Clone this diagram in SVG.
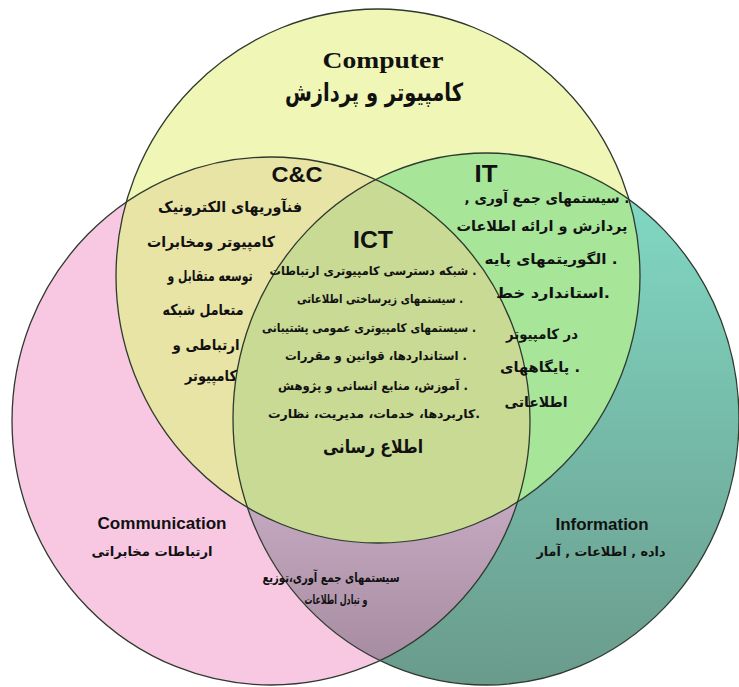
<svg xmlns="http://www.w3.org/2000/svg" width="739" height="687" viewBox="0 0 739 687">
  <defs>
    <linearGradient id="gTeal" gradientUnits="userSpaceOnUse" x1="0" y1="153" x2="0" y2="685">
      <stop offset="0" stop-color="#82ddc8"/>
      <stop offset="1" stop-color="#6a9b8c"/>
    </linearGradient>
    <linearGradient id="gPurple" gradientUnits="userSpaceOnUse" x1="0" y1="500" x2="0" y2="670">
      <stop offset="0" stop-color="#c4a9c0"/>
      <stop offset="1" stop-color="#a58aa0"/>
    </linearGradient>
    <clipPath id="cY"><ellipse cx="378" cy="276" rx="262" ry="267"/></clipPath>
    <clipPath id="cP"><ellipse cx="271" cy="421" rx="259" ry="264"/></clipPath>
  </defs>
  <style>
    .edge { fill: none; stroke: #2e3a2e; stroke-width: 1.3; }
    .en { font-family: "Liberation Sans", Arial, sans-serif; font-weight: bold; fill: #111; text-anchor: middle; }
    .fa { font-family: "DejaVu Sans", "Noto Sans", sans-serif; font-weight: bold; fill: #111; text-anchor: middle; direction: rtl; }
  </style>
  <rect width="739" height="687" fill="#ffffff"/>

  <!-- base circles -->
  <g id="information-circle">
    <ellipse cx="486" cy="419" rx="253" ry="266" fill="url(#gTeal)"/>
  </g>
  <g id="communication-circle">
    <ellipse cx="271" cy="421" rx="259" ry="264" fill="#f8c8e2"/>
  </g>
  <g id="computer-circle">
    <ellipse cx="378" cy="276" rx="262" ry="267" fill="#eff6b6"/>
  </g>

  <!-- intersections -->
  <g id="region-comm-info" clip-path="url(#cP)">
    <ellipse cx="486" cy="419" rx="253" ry="266" fill="url(#gPurple)"/>
  </g>
  <g id="region-cc" clip-path="url(#cY)">
    <ellipse cx="271" cy="421" rx="259" ry="264" fill="#e8e4a6"/>
  </g>
  <g id="region-it" clip-path="url(#cY)">
    <ellipse cx="486" cy="419" rx="253" ry="266" fill="#a7e599"/>
  </g>
  <g id="region-ict" clip-path="url(#cY)">
    <g clip-path="url(#cP)">
      <ellipse cx="486" cy="419" rx="253" ry="266" fill="#c9da94"/>
    </g>
  </g>

  <!-- outlines -->
  <g id="outlines">
    <ellipse class="edge" cx="378" cy="276" rx="262" ry="267"/>
    <ellipse class="edge" cx="271" cy="421" rx="259" ry="264"/>
    <ellipse class="edge" cx="486" cy="419" rx="253" ry="266"/>
  </g>

  <g id="connectors"></g>

  <!-- labels -->
  <g id="computer-label">
    <text x="383" y="68" font-family="Liberation Serif, 'Times New Roman', serif" font-weight="bold" font-size="24" fill="#111" text-anchor="middle" textLength="121" lengthAdjust="spacingAndGlyphs">Computer</text>
    <text class="fa" x="374" y="101" font-size="25" textLength="178" lengthAdjust="spacingAndGlyphs">کامپیوتر و پردازش</text>
  </g>

  <g id="cc-label">
    <text class="en" x="297" y="182" font-size="22" textLength="51" lengthAdjust="spacingAndGlyphs">C&amp;C</text>
    <text class="fa" x="230" y="212" font-size="15" textLength="144" lengthAdjust="spacingAndGlyphs">فنآوریهای الکترونیک</text>
    <text class="fa" x="211" y="247" font-size="15" textLength="128" lengthAdjust="spacingAndGlyphs">کامپیوتر ومخابرات</text>
    <text class="fa" x="210" y="281" font-size="15" textLength="85" lengthAdjust="spacingAndGlyphs">توسعه متقابل و</text>
    <text class="fa" x="203" y="315" font-size="15" textLength="81" lengthAdjust="spacingAndGlyphs">متعامل شبکه</text>
    <text class="fa" x="206" y="350" font-size="15" textLength="67" lengthAdjust="spacingAndGlyphs">ارتباطی و</text>
    <text class="fa" x="211" y="381" font-size="15" textLength="52" lengthAdjust="spacingAndGlyphs">کامپیوتر</text>
  </g>

  <g id="ict-label">
    <text class="en" x="373" y="248" font-size="23" textLength="40" lengthAdjust="spacingAndGlyphs">ICT</text>
    <text class="fa" x="373" y="275" font-size="12" textLength="207" lengthAdjust="spacingAndGlyphs">. شبکه دسترسی کامپیوتری ارتباطات</text>
    <text class="fa" x="380" y="303" font-size="12" textLength="166" lengthAdjust="spacingAndGlyphs">. سیستمهای زیرساختی اطلاعاتی</text>
    <text class="fa" x="369" y="332" font-size="12" textLength="214" lengthAdjust="spacingAndGlyphs">. سیستمهای کامپیوتری عمومی پشتیبانی</text>
    <text class="fa" x="376" y="360" font-size="12" textLength="182" lengthAdjust="spacingAndGlyphs">. استانداردها، قوانین و مقررات</text>
    <text class="fa" x="373" y="390" font-size="12" textLength="190" lengthAdjust="spacingAndGlyphs">. آموزش، منابع انسانی و پژوهش</text>
    <text class="fa" x="374" y="418" font-size="12" textLength="212" lengthAdjust="spacingAndGlyphs">.کاربردها، خدمات، مدیریت، نظارت</text>
    <text class="fa" x="373" y="453" font-size="18" textLength="100" lengthAdjust="spacingAndGlyphs">اطلاع رسانی</text>
  </g>

  <g id="it-label">
    <text class="en" x="486" y="182" font-size="23" textLength="23" lengthAdjust="spacingAndGlyphs">IT</text>
    <text class="fa" x="547" y="203" font-size="14" textLength="165" lengthAdjust="spacingAndGlyphs">. سیستمهای جمع آوری ,</text>
    <text class="fa" x="542" y="231" font-size="14" textLength="171" lengthAdjust="spacingAndGlyphs">پردازش و ارائه اطلاعات</text>
    <text class="fa" x="551" y="264" font-size="14" textLength="133" lengthAdjust="spacingAndGlyphs">. الگوریتمهای پایه</text>
    <text class="fa" x="553" y="298" font-size="14" textLength="114" lengthAdjust="spacingAndGlyphs">.استاندارد خط</text>
    <text class="fa" x="542" y="339" font-size="14" textLength="72" lengthAdjust="spacingAndGlyphs">در کامپیوتر</text>
    <text class="fa" x="540" y="372" font-size="14" textLength="80" lengthAdjust="spacingAndGlyphs">. پایگاههای</text>
    <text class="fa" x="536" y="407" font-size="14" textLength="63" lengthAdjust="spacingAndGlyphs">اطلاعاتی</text>
  </g>

  <g id="communication-label">
    <text class="en" x="162" y="529" font-size="16" textLength="129" lengthAdjust="spacingAndGlyphs">Communication</text>
    <text class="fa" x="152" y="556" font-size="13" textLength="121" lengthAdjust="spacingAndGlyphs">ارتباطات مخابراتی</text>
  </g>

  <g id="information-label">
    <text class="en" x="602" y="530" font-size="16" textLength="93" lengthAdjust="spacingAndGlyphs">Information</text>
    <text class="fa" x="601" y="556" font-size="13" textLength="129" lengthAdjust="spacingAndGlyphs">داده , اطلاعات , آمار</text>
  </g>

  <g id="comm-info-label">
    <text class="fa" x="331" y="582" font-size="13" textLength="137" lengthAdjust="spacingAndGlyphs">سیستمهای جمع آوری،توزیع</text>
    <text class="fa" x="336" y="604" font-size="13" textLength="63" lengthAdjust="spacingAndGlyphs">و تبادل اطلاعات</text>
  </g>
</svg>
